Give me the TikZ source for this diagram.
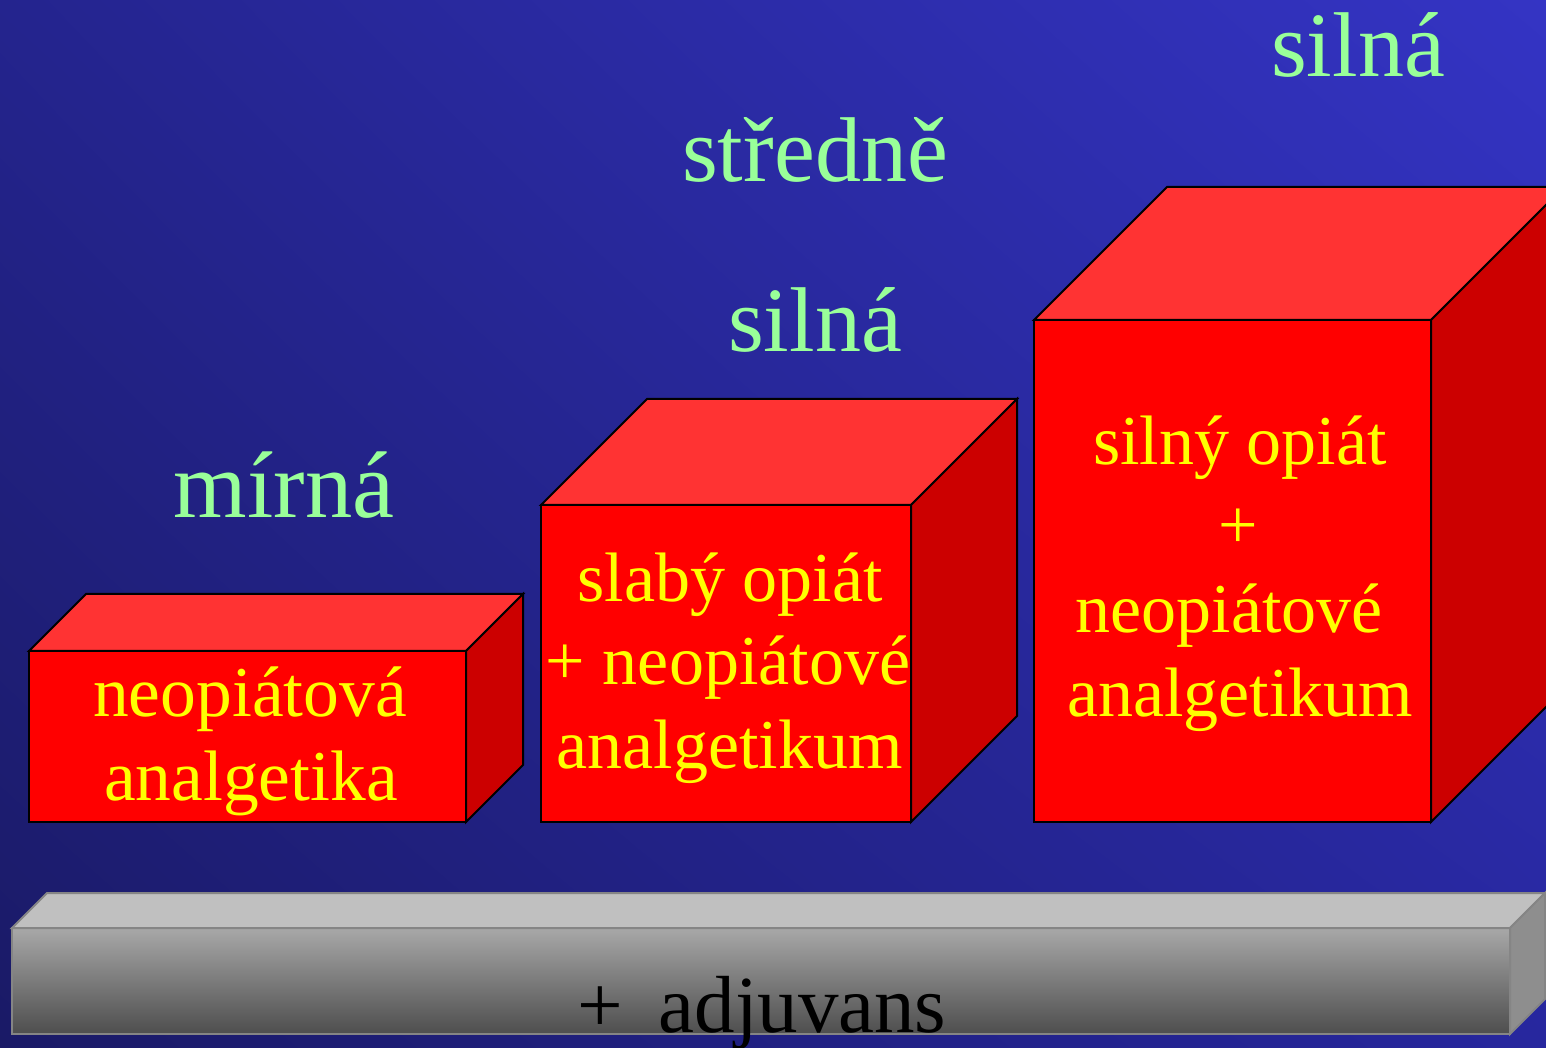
\documentclass[tikz,border=0pt]{standalone}
\usepackage{fontspec}
\setmainfont{Liberation Serif}
\usetikzlibrary{calc,shadings}

\definecolor{bgLL}{HTML}{1A1A66}
\definecolor{bgUL}{HTML}{24248E}
\definecolor{bgLR}{HTML}{27279E}
\definecolor{bgUR}{HTML}{3434C4}
\definecolor{frontred}{HTML}{FF0000}
\definecolor{topred}{HTML}{FF3333}
\definecolor{sidered}{HTML}{CC0000}
\definecolor{labelgreen}{HTML}{99FF99}
\definecolor{textyellow}{HTML}{FFFF00}
\definecolor{bartop}{HTML}{C0C0C0}
\definecolor{barside}{HTML}{8E8E8E}
\definecolor{barhi}{HTML}{A8A8A8}
\definecolor{barlo}{HTML}{4E4E4E}
\definecolor{baredge}{HTML}{858585}

% top and right faces of a box whose front face is node #1, receding by #2
\newcommand\boxfaces[4]{%
  \filldraw[#3] (#1.north west) -- ++(#2,#2) -- ($(#1.north east)+(#2,#2)$) -- (#1.north east) -- cycle;
  \filldraw[#4] (#1.north east) -- ++(#2,#2) -- ($(#1.south east)+(#2,#2)$) -- (#1.south east) -- cycle;
}

\begin{document}
\begin{tikzpicture}[x=1pt,y=1pt,
  redfront/.style={draw=black, line width=2pt, fill=frontred, inner sep=0pt, outer sep=0pt},
  redtop/.style={draw=black, line width=2pt, fill=topred},
  redside/.style={draw=black, line width=2pt, fill=sidered},
  barfront/.style={draw=baredge, line width=2pt, top color=barhi, bottom color=barlo, inner sep=0pt, outer sep=0pt},
  bartopface/.style={draw=baredge, line width=2pt, fill=bartop},
  barsideface/.style={draw=baredge, line width=2pt, fill=barside},
  level/.style={text=labelgreen, anchor=base, inner sep=0pt, font=\fontsize{92}{110}\selectfont},
  drug/.style={text=textyellow, anchor=base, inner sep=0pt, font=\fontsize{70}{84}\selectfont},
  adj/.style={text=black, anchor=base, inner sep=0pt, font=\fontsize{81}{97}\selectfont}]

\useasboundingbox (0,0) rectangle (1546,1047);
\clip (0,0) rectangle (1546,1047);

% background
\shade[lower left=bgLL, upper left=bgUL, lower right=bgLR, upper right=bgUR]
  (0,0) rectangle (1546,1047);

% step 1
\node[redfront, minimum width=437, minimum height=171] (b1) at (247.5,310.5) {};
\boxfaces{b1}{57}{redtop}{redside}
\node[drug, font=\fontsize{71.5}{84}\selectfont] (t1a) at (250,330) {neopiátová};
\node[drug, font=\fontsize{71.5}{84}\selectfont] (t1b) at (251,247) {analgetika};
\node[level, font=\fontsize{94.5}{110}\selectfont] (l1) at (284,529) {mírná};

% step 2
\node[redfront, minimum width=370, minimum height=317] (b2) at (726,383.5) {};
\boxfaces{b2}{106}{redtop}{redside}
\node[drug] (t2a) at (730,445) {slabý opiát};
\node[drug] (t2b) at (728,362) {+ neopiátové};
\node[drug] (t2c) at (729.5,279) {analgetikum};
\node[level] (l2a) at (815,865) {středně};
\node[level] (l2b) at (815,695) {silná};

% step 3
\node[redfront, minimum width=397, minimum height=502] (b3) at (1232.5,476) {};
\boxfaces{b3}{133}{redtop}{redside}
\node[drug] (t3a) at (1240,582) {silný opiát};
\node[drug] (t3b) at (1238.5,498) {+};
\node[drug] (t3c) at (1229,414) {neopiátové};
\node[drug] (t3d) at (1240,330) {analgetikum};
\node[level] (l3) at (1358,970) {silná};

% base bar
\node[barfront, minimum width=1498, minimum height=106] (bar) at (761,66) {};
\boxfaces{bar}{35}{bartopface}{barsideface}
\node[adj] (plus) at (600,15) {+};
\node[adj] (adjv) at (802.5,15) {adjuvans};

\end{tikzpicture}
\end{document}
